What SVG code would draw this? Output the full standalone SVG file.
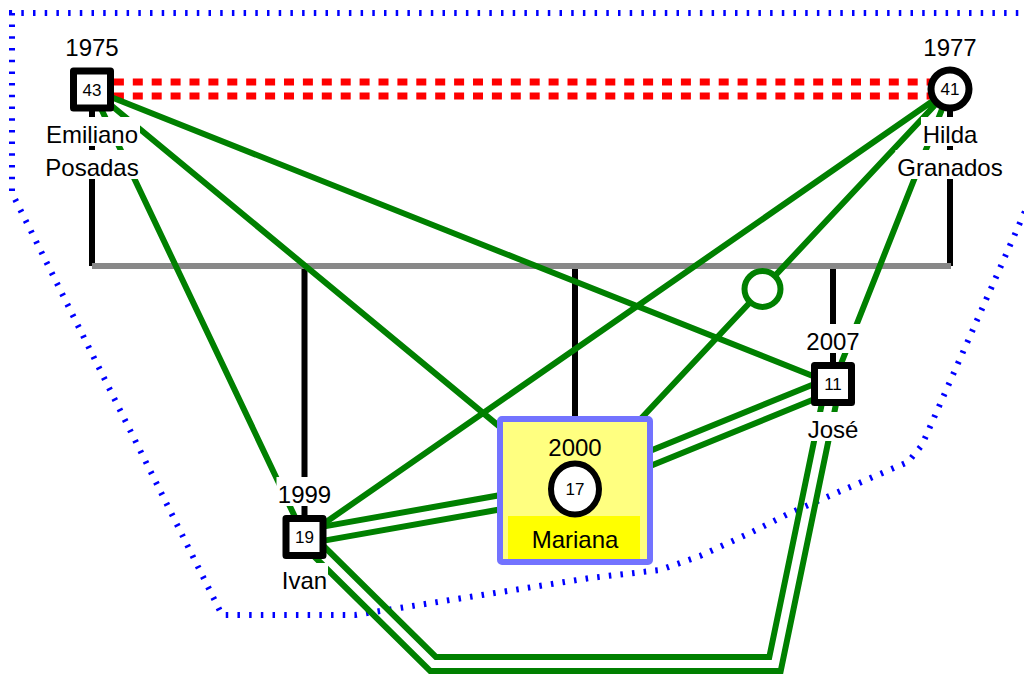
<svg xmlns="http://www.w3.org/2000/svg" width="1024" height="675" viewBox="0 0 1024 675">
<style>
text{font-family:"Liberation Sans",Arial,sans-serif;fill:#000}
.lbl{font-size:24px;text-anchor:middle}
.num{font-size:17px;text-anchor:middle}
.bg{fill:#fff}
.sq{fill:#fff;stroke:#000;stroke-width:7;stroke-linejoin:round}
.ring{fill:#fff;stroke:#000;stroke-width:7}
.drop{stroke:#000;stroke-width:6;fill:none}
.fam{stroke:#888;stroke-width:6}
.kin{stroke:#008000;stroke-width:6;fill:none}
.couple{stroke:#f00;stroke-width:7;stroke-dasharray:10 8.9}
.group{fill:none;stroke:#00f;stroke-width:6;stroke-dasharray:2.5 9.2}
</style>
<rect width="1024" height="675" fill="#fff"/>

<!-- household outline -->
<path class="group" d="M1030,13 H12 V193 L222,615 H355 L590,578 L660,570 L700,556 L750,533 L790,513 L850,487 L880,474 L908,462 L922,445 L1030,200"/>

<g id="connectors">
  <!-- couple line -->
  <line class="couple" x1="95" y1="82" x2="950" y2="82"/>
  <line class="couple" x1="95" y1="96" x2="950" y2="96"/>
  <!-- family bar and child drops -->
  <path class="drop" d="M92,108V266 M950,108V266 M304.5,266V537 M575,266V489 M833,266V384"/>
  <line class="fam" x1="92" y1="266" x2="951" y2="266"/>
  <!-- single relation links -->
  <path class="kin" d="M92,89.5L833,384 M92,89.5L575,489 M92,89.5L304.5,537 M950,89L304.5,537 M950,89L575,489 M950,89L833,384"/>
  <!-- double relation links -->
  <path class="kin" d="M303.3,530.1L573.8,482.1 M305.7,543.9L576.2,495.9"/>
  <path class="kin" d="M835.6,390.5L577.6,495.5 M830.4,377.5L572.4,482.5"/>
  <path class="kin" d="M309.4,532L435.9,657L769.3,657L826.2,382.6 M299.6,542L430.2,671L780.7,671L839.9,385.4"/>
  <circle cx="762.5" cy="289" r="18" fill="#fff" stroke="#008000" stroke-width="6"/>
</g>

<g id="emiliano">
  <text class="lbl" x="92" y="56">1975</text>
  <rect class="sq" x="73.5" y="71" width="37" height="37"/>
  <text class="num" x="92" y="95.5">43</text>
  <rect class="bg" x="44" y="117" width="96" height="29"/>
  <text class="lbl" x="92" y="143">Emiliano</text>
  <rect class="bg" x="43" y="150" width="98" height="29"/>
  <text class="lbl" x="92" y="176">Posadas</text>
</g>

<g id="hilda">
  <text class="lbl" x="950" y="56">1977</text>
  <circle class="ring" cx="950" cy="89" r="19"/>
  <text class="num" x="950" y="95">41</text>
  <rect class="bg" x="921" y="117" width="58" height="29"/>
  <text class="lbl" x="950" y="143">Hilda</text>
  <rect class="bg" x="895.5" y="150" width="109" height="29"/>
  <text class="lbl" x="950" y="176">Granados</text>
</g>

<g id="ivan">
  <rect class="bg" x="276.5" y="477" width="56" height="29"/>
  <text class="lbl" x="304.5" y="503">1999</text>
  <rect class="sq" x="286" y="518.5" width="37" height="37"/>
  <text class="num" x="304.5" y="543">19</text>
  <rect class="bg" x="281" y="563" width="47" height="29"/>
  <text class="lbl" x="304.5" y="589">Ivan</text>
</g>

<g id="mariana">
  <rect x="500" y="419" width="150" height="143" fill="#ffff80"/>
  <rect x="508" y="516" width="132" height="43" fill="#ffff00"/>
  <rect x="500" y="419" width="150" height="143" rx="2" fill="none" stroke="#7373ff" stroke-width="6"/>
  <text class="lbl" x="575" y="456">2000</text>
  <ellipse cx="575" cy="489" rx="24" ry="25.5" fill="#fff" stroke="#000" stroke-width="6"/>
  <text class="num" x="575" y="495">17</text>
  <text class="lbl" x="575" y="548">Mariana</text>
</g>

<g id="jose">
  <rect class="bg" x="805" y="324" width="56" height="29"/>
  <text class="lbl" x="833" y="350">2007</text>
  <rect class="sq" x="814.5" y="365.5" width="37" height="37"/>
  <text class="num" x="833" y="390">11</text>
  <rect class="bg" x="806" y="412" width="54" height="29"/>
  <text class="lbl" x="833" y="438">José</text>
</g>
</svg>
